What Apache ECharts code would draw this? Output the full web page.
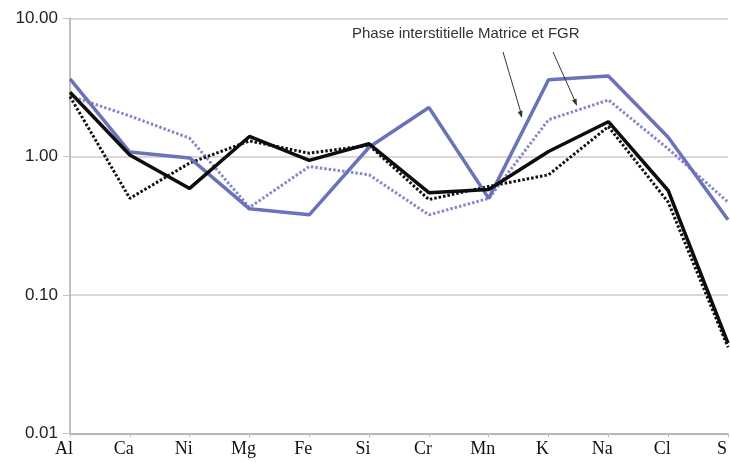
<!DOCTYPE html>
<html>
<head>
<meta charset="utf-8">
<script src="https://cdn.jsdelivr.net/npm/echarts@6/dist/echarts.min.js"></script>
<style>
html,body{margin:0;padding:0;background:#fff;}
#c{width:730px;height:462px;}
</style>
</head>
<body>
<div id="c"></div>
<script>
const categories = ['Al','Ca','Ni','Mg','Fe','Si','Cr','Mn','K','Na','Cl','S'];
const blueSolid  = [3.65, 1.08, 0.98, 0.42, 0.38, 1.17, 2.27, 0.50, 3.60, 3.83, 1.38, 0.35];
const blackSolid = [2.92, 1.03, 0.59, 1.40, 0.94, 1.24, 0.55, 0.58, 1.09, 1.79, 0.57, 0.045];
const blackDotted= [2.72, 0.50, 0.90, 1.30, 1.06, 1.21, 0.49, 0.61, 0.74, 1.65, 0.47, 0.042];
const blueDotted = [2.75, 1.97, 1.36, 0.43, 0.85, 0.74, 0.38, 0.50, 1.85, 2.57, 1.14, 0.47];
const yTicks = [0.01, 0.1, 1, 10];
const annotation = 'Phase interstitielle Matrice et FGR';

const chart = echarts.init(document.getElementById('c'), null, {renderer:'canvas'});
chart.setOption({
  animation: false,
  backgroundColor: '#ffffff',
  grid: {left: 70, top: 18.3, width: 663, height: 415.2, containLabel: false},
  xAxis: {
    type: 'category',
    data: categories,
    boundaryGap: false,
    axisLine: {lineStyle: {color: '#b0aaa8', width: 1.5}},
    axisTick: {show: true, length: 4, lineStyle: {color: '#c8c0bc'}},
    axisLabel: {
      interval: 0,
      margin: 7,
      fontFamily: 'Liberation Serif, DejaVu Serif, serif',
      fontSize: 18,
      color: '#111',
      padding: [0, 12, 0, 0]
    },
    splitLine: {show: false}
  },
  yAxis: {
    type: 'log',
    logBase: 10,
    min: yTicks[0],
    max: yTicks[yTicks.length - 1],
    axisLine: {show: true, lineStyle: {color: '#b0aaa8', width: 1.5}},
    axisTick: {show: true, length: 7, lineStyle: {color: '#c8c0bc'}},
    axisLabel: {
      margin: 12,
      fontFamily: 'Liberation Sans, Arial, sans-serif',
      fontSize: 17,
      color: '#222',
      formatter: v => Number(v).toFixed(2)
    },
    splitLine: {show: true, lineStyle: {color: '#d2c8c4', width: 1.5}}
  },
  series: [
    {name: 'blueDotted', type: 'line', data: blueDotted, symbol: 'none',
     lineStyle: {color: '#8b86cc', width: 3, type: [2.5, 2]}, z: 2},
    {name: 'blackDotted', type: 'line', data: blackDotted, symbol: 'none',
     lineStyle: {color: '#111', width: 3, type: [2.5, 2]}, z: 3},
    {name: 'blueSolid', type: 'line', data: blueSolid, symbol: 'none',
     lineStyle: {color: '#6a73ba', width: 3.5}, z: 4},
    {name: 'blackSolid', type: 'line', data: blackSolid, symbol: 'none',
     lineStyle: {color: '#0d0d0d', width: 3.5}, z: 5}
  ],
  graphic: [
    {type: 'text', left: 352, top: 26, z: 10,
     style: {text: annotation, font: '15px "Liberation Sans", Arial, sans-serif', fill: '#333'}},
    {type: 'line', z: 10, shape: {x1: 503, y1: 52, x2: 521, y2: 113}, style: {stroke: '#333', lineWidth: 1}},
    {type: 'polygon', z: 10, shape: {points: [[522,118],[517.7,112.0],[522.5,110.6]]}, style: {fill: '#333'}},
    {type: 'line', z: 10, shape: {x1: 553, y1: 52, x2: 575, y2: 101}, style: {stroke: '#333', lineWidth: 1}},
    {type: 'polygon', z: 10, shape: {points: [[577,106],[571.9,100.6],[576.5,98.6]]}, style: {fill: '#333'}}
  ]
});
</script>
</body>
</html>
